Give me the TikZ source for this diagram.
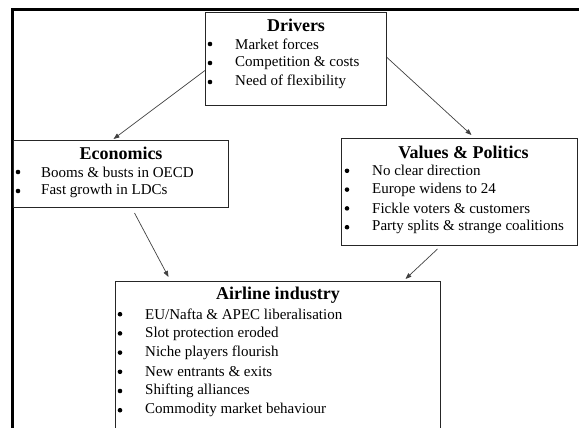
\documentclass[tikz,border=0pt]{standalone}
\usepackage{fontspec}
\setmainfont{Liberation Serif}
\usetikzlibrary{arrows.meta}

\begin{document}
\begin{tikzpicture}[x=1pt, y=-1pt,
    box/.style={draw=black!85, line width=1pt, anchor=north west, inner sep=0pt},
    ttl/.style={anchor=center, inner sep=0pt, font=\fontsize{18}{20}\selectfont\bfseries},
    itm/.style={anchor=west, inner sep=0pt, font=\fontsize{15}{17}\selectfont},
    bul/.style={circle, fill=black, inner sep=0pt, minimum size=4.6pt},
    link/.style={draw=black!75, line width=0.7pt, -{Triangle[length=6pt,width=4.5pt]}}]
      \useasboundingbox (0,0) rectangle (579,428);
      \clip (0,0) rectangle (579,428);
      \draw[line width=3pt] (12,440) -- (12,10) -- (590,10);
      \node[box, minimum width=181pt, minimum height=93pt] (drv) at (205,12) {};
      \node[box, minimum width=215pt, minimum height=67pt] (eco) at (13,140) {};
      \node[box, minimum width=236pt, minimum height=107pt] (val) at (341,138) {};
      \node[box, minimum width=325pt, minimum height=170pt] (air) at (115,281) {};
      \node[ttl] (drvt) at ([yshift=-13pt]drv.north) {Drivers};
      \node[ttl] (ecot) at ([yshift=-13pt]eco.north) {Economics};
      \node[ttl] (valt) at ([xshift=4pt, yshift=-14pt]val.north) {Values \& Politics};
      \node[ttl] (airt) at ([yshift=-14pt]air.north) {Airline industry};
      \foreach \t [count=\i] in {Market forces, Competition \& costs, Need of flexibility} {
        \node[bul] (drvb\i) at ([xshift=5pt, yshift={-13pt-19pt*\i}]drv.north west) {};
        \node[itm] (drvi\i) at ([xshift=30pt, yshift={-13pt-19pt*\i}]drv.north west) {\t};
      }
      \foreach \t [count=\i] in {Booms \& busts in OECD, Fast growth in LDCs} {
        \node[bul] (ecob\i) at ([xshift=5pt, yshift={-13pt-19pt*\i}]eco.north west) {};
        \node[itm] (ecoi\i) at ([xshift=28pt, yshift={-13pt-19pt*\i}]eco.north west) {\t};
      }
      \foreach \t [count=\i] in {No clear direction, Europe widens to 24, Fickle voters \& customers, Party splits \& strange coalitions} {
        \node[bul] (valb\i) at ([xshift=6pt, yshift={-14pt-18.8pt*\i}]val.north west) {};
        \node[itm] (vali\i) at ([xshift=31pt, yshift={-14pt-18.8pt*\i}]val.north west) {\t};
      }
      \foreach \t [count=\i] in {EU/Nafta \& APEC liberalisation, Slot protection eroded, Niche players flourish, New entrants \& exits, Shifting alliances, Commodity market behaviour} {
        \node[bul] (airb\i) at ([xshift=5pt, yshift={-14pt-19.2pt*\i}]air.north west) {};
        \node[itm] (airi\i) at ([xshift=30pt, yshift={-14pt-19.2pt*\i}]air.north west) {\t};
      }
      \draw[link] ([yshift=-11.5pt]drv.west) -- ([xshift=-7.5pt, yshift=1pt]eco.north);
      \draw[link] ([yshift=1.5pt]drv.east) -- ([xshift=12pt, yshift=3pt]val.north);
      \draw[link] ([xshift=13.5pt, yshift=-5pt]eco.south) -- ([xshift=-109.5pt, yshift=4pt]air.north);
      \draw[link] ([xshift=-22pt, yshift=-3pt]val.south) -- ([xshift=127.5pt, yshift=2pt]air.north);
    \end{tikzpicture}
\end{document}
